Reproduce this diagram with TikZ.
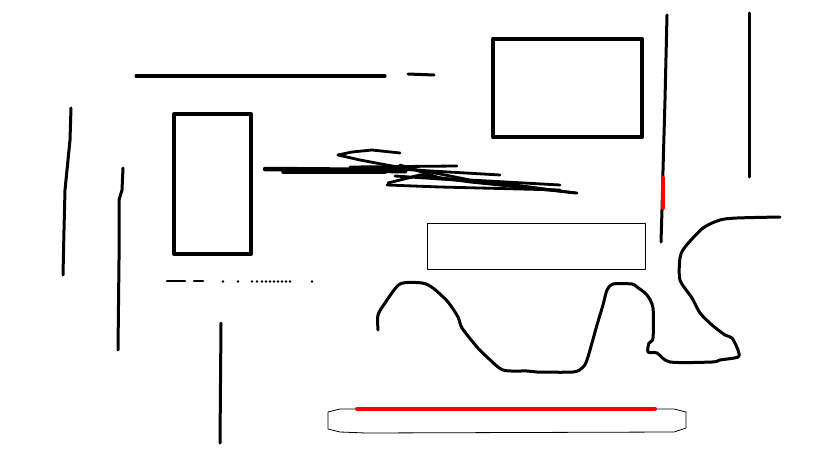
\documentclass[tikz,border=0pt]{standalone}
\begin{document}
\begin{tikzpicture}[x=1pt,y=-1pt,line cap=round,line join=round,
  stroke/.style={draw=black,line width=3pt},
  boxthick/.style={draw=black,line width=4pt},
  thin/.style={draw=black,line width=0.8pt},
  scrib/.style={draw=black,line width=2.8pt},
  redstroke/.style={draw=red,line width=4pt}]
\useasboundingbox (0,0) rectangle (819,460);
% top lines
\draw[stroke] (136,76) -- (385,76);
\draw[stroke] (408,74) -- (434,75);
% boxes
\draw[boxthick] (493,39) rectangle (642,137);
\draw[boxthick] (174,114) rectangle (251,254);
\draw[thin] (427,223) rectangle (645,269);
% right vertical lines
\draw[stroke] (667,15) -- (665,100) -- (663,170) -- (662,210) -- (661,242);
\draw[redstroke] (663,178) -- (663,208);
\draw[stroke] (749,13) -- (749,177);
% left verticals
\draw[stroke] (71,108) -- (70,140) -- (65,190) -- (64,230) -- (63,275);
\draw[stroke] (123,168) -- (122,190) -- (119,200) -- (119,260) -- (118,350);
\draw[stroke] (221,323) -- (220,443);
% dotted row
\draw[line width=2.6pt] (167,281) -- (185,281);
\draw[line width=2.6pt] (194,281) -- (203,281);
\foreach \xx in {223,238,252,257,262,266,270,274,278,282,286,290,312}
  \fill (\xx,281.5) circle (1.4pt);
% scribble
\draw[line width=4.5pt] (265,169) -- (395,170);
\draw[line width=3.5pt] (283,172) -- (385,172);
\draw[line width=5pt] (350,170) -- (405,171);
\draw[scrib] (338,155) -- (352,152) -- (372,150) -- (400,153);
\draw[scrib] (338,155) -- (360,160) -- (392,166) -- (430,172) -- (470,180) -- (560,185);
\draw[scrib] (350,167) -- (457,166);
\draw[scrib] (380,168) -- (500,175);
\draw[scrib] (388,183) -- (420,175) -- (470,182) -- (577,193);
\draw[scrib] (387,185) -- (440,187) -- (560,190);
\draw[scrib] (400,165) -- (440,178) -- (520,186);
\draw[scrib] (395,176) -- (500,183) -- (575,193);
% long wavy curve
\draw[stroke] plot[smooth,tension=0.45] coordinates {
 (378,330) (378,315) (385,303) (400,284) (422,283) (433,288) (448,302) (458,317)
 (462,328) (477,347) (487,357) (503,370) (527,371) (537,372) (573,372) (582,368)
 (587,360) (597,325) (603,305) (607,290) (613,284) (632,284) (637,287) (647,295)
 (653,308) (653,338) (649,343) (648,352) (657,353) (670,362) (712,362) (720,360)
 (738,357) (738,350) (732,338) (725,335) (712,325) (700,313) (692,298) (680,280)
 (680,258) (685,247) (703,228) (720,220) (737,218) (780,217)};
% bottom rounded bar
\draw[thin] (340,409) -- (674,409) -- (686,412) -- (686,428) -- (674,432) -- (366,433) -- (340,432) -- (328,429) -- (328,412) -- cycle;
\draw[redstroke] (357,408.5) -- (655,408.5);
\end{tikzpicture}
\end{document}
